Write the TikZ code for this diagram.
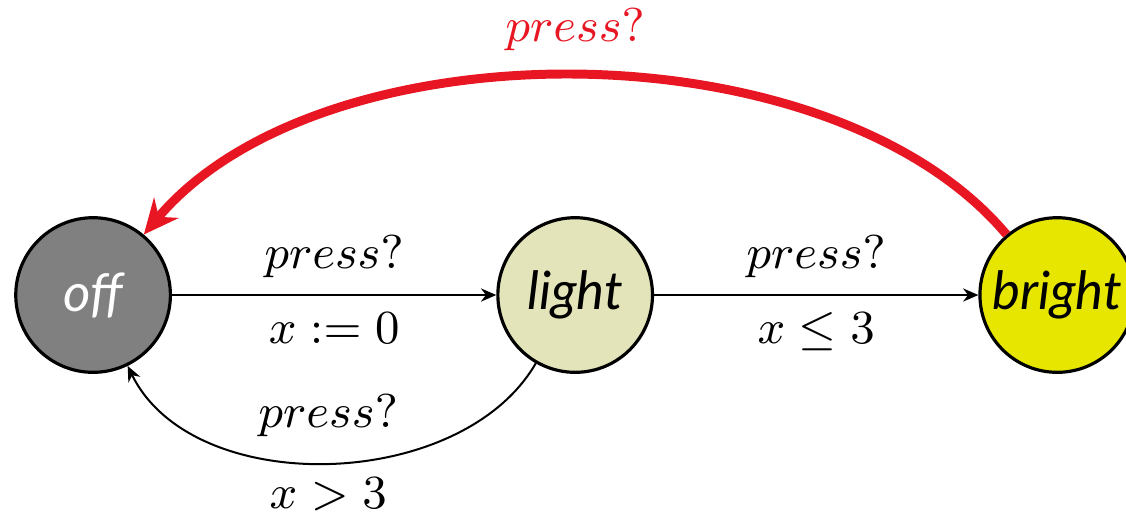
\documentclass[tikz,border=0pt]{standalone}
\usepackage{amsmath,amssymb}
\usepackage{fontspec}
\newfontfamily\statefont{Lato}
\usepackage{xcolor}
\usetikzlibrary{arrows.meta, positioning}

\definecolor{lightfill}{RGB}{228,228,186}
\definecolor{brightfill}{RGB}{230,230,0}
\definecolor{resetred}{RGB}{232,22,34}

\begin{document}
\begin{tikzpicture}[>={Stealth[length=2.9pt, width=2.5pt]}, node distance=2.16cm,
        font=\fontsize{9.4}{11}\selectfont,
        % Node Styles
        state/.style={circle, draw, line width=0.6pt, minimum size=1.03cm, inner sep=0pt, font=\fontsize{10}{12}\selectfont\statefont\itshape},
        guard/.style={inner sep=2pt},
        arrow/.style={->, line width=0.38pt, draw=black},
        reset/.style={-{Stealth[length=6.6pt, width=6pt, inset=2.2pt]}, line width=1.7pt, draw=resetred}
    ]
    \useasboundingbox (-0.62,-1.465) rectangle (6.88,1.965);

    % --- States ---
    \node[state, fill=black!50, text=white] (off) {off};
    \node[state, fill=lightfill, right=of off] (light) {light};
    \node[state, fill=brightfill, right=of light] (bright) {bright};

    % --- Transitions ---
    \draw[arrow] (off) -- node[guard, above=0.04cm] {$press?$} node[guard, below=0.04cm] {$x := 0$} (light);
    \draw[arrow] (light) -- node[guard, above=0.04cm] {$press?$} node[guard, below=0.04cm] {$x \leq 3$} (bright);
    \draw[arrow] (light) to[out=-120, in=-64, looseness=0.93]
        node[guard, above=0.1cm] {$press?$} node[guard, below=0.02cm] {$x > 3$} (off);

    % Reset back to off (top)
    \draw[reset] (bright) to[out=130, in=50, looseness=0.82]
        node[above=0.02cm, text=resetred] {$press?$} (off);

\end{tikzpicture}
\end{document}
